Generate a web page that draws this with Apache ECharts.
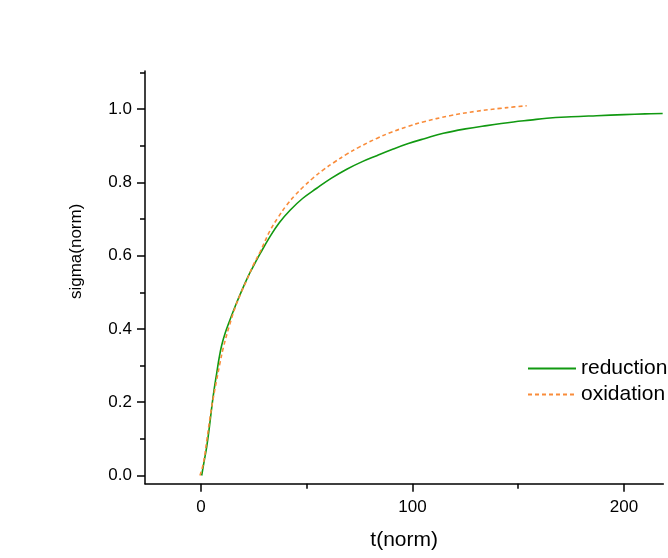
<!DOCTYPE html>
<html>
<head>
<meta charset="utf-8">
<script src="https://cdn.jsdelivr.net/npm/echarts@6/dist/echarts.min.js"></script>
<style>html,body{margin:0;padding:0;background:#fff}#c{width:668px;height:558px}</style>
</head>
<body>
<div id="c"></div>
<script>
// reduction curve (t, sigma)
var redT = [0.3,1.5,2.7,4.0,5.1,6.2,7.4,8.6,9.8,11.5,13.7,16.3,19.2,22.0,24.0,28,32.6,37,42.1,48,54.7,61.5,68.9,76,83.1,90,98,106,114.6,125,135.1,147.7,155.6,163.5,175,187.1,200,210,218.3];
var redS = [0,0.04,0.079,0.135,0.188,0.235,0.279,0.322,0.356,0.39,0.425,0.464,0.504,0.540,0.563,0.606,0.652,0.69,0.724,0.756,0.784,0.811,0.836,0.856,0.873,0.889,0.906,0.920,0.934,0.946,0.955,0.965,0.970,0.975,0.979,0.982,0.985,0.987,0.988];
// oxidation curve (t, sigma)
var oxT = [-0.5,1.1,2.7,4.3,5.8,7.4,9.0,10.5,13.2,16.1,18.8,21.6,24.7,27.9,32.6,36.5,40.5,44.5,48.4,53,57.8,63,68.9,75,83.1,90,98,105,117.7,130,141.4,148,154];
var oxS = [0,0.033,0.095,0.160,0.212,0.261,0.308,0.348,0.405,0.458,0.497,0.533,0.574,0.61,0.668,0.705,0.738,0.765,0.788,0.812,0.834,0.855,0.877,0.897,0.920,0.937,0.953,0.965,0.982,0.994,1.002,1.006,1.009];
// ticks
var xMajor = [0,100,200];
var xMinor = [50,150];
var yMajor = [0,0.2,0.4,0.6,0.8,1.0];
var yMinor = [0.1,0.3,0.5,0.7,0.9,1.1];
var seriesNames = ['reduction','oxidation'];

function pairs(a,b){return a.map(function(v,i){return [v,b[i]];});}
var FONT = "'Liberation Sans', Arial, sans-serif";
var xr = {min:-26.5, max:218.6};
var yr = {min:-0.0224, max:1.104};
var axisLine = {show:true, onZero:false, lineStyle:{color:'#000', width:1.5}};
var hiddenLine = {show:false, onZero:false};

var chart = echarts.init(document.getElementById('c'), null, {renderer:'canvas'});
chart.setOption({
  backgroundColor:'#fff',
  animation:false,
  grid:{left:145, right:4.7, top:71, bottom:74.3, outerBoundsMode:'none'},
  legend:{
    orient:'vertical', left:527, top:358, padding:0, itemWidth:48, itemHeight:14, itemGap:5,
    itemStyle:{opacity:0},
    textStyle:{fontFamily:FONT, fontSize:21, color:'#000'},
    data:seriesNames
  },
  xAxis:[
    {type:'value', min:xr.min, max:xr.max, position:'bottom',
     name:'t(norm)', nameLocation:'middle', nameGap:46,
     nameTextStyle:{fontFamily:FONT, fontSize:21, color:'#000'},
     axisLine:axisLine,
     axisTick:{show:true, inside:false, length:8, customValues:xMajor, lineStyle:{color:'#000', width:1.5}},
     axisLabel:{show:true, customValues:xMajor, margin:15, fontFamily:FONT, fontSize:17, color:'#000'},
     splitLine:{show:false}},
    {type:'value', min:xr.min, max:xr.max, position:'bottom',
     axisLine:hiddenLine,
     axisTick:{show:true, length:5, customValues:xMinor, lineStyle:{color:'#000', width:1.5}},
     axisLabel:{show:false}, splitLine:{show:false}}
  ],
  yAxis:[
    {type:'value', min:yr.min, max:yr.max, position:'left',
     name:'sigma(norm)', nameLocation:'middle', nameGap:60,
     nameTextStyle:{fontFamily:FONT, fontSize:17, color:'#000', padding:[0,0,0,52]},
     axisLine:axisLine,
     axisTick:{show:true, length:8, customValues:yMajor, lineStyle:{color:'#000', width:1.5}},
     axisLabel:{show:true, customValues:yMajor, margin:13, fontFamily:FONT, fontSize:17, color:'#000',
       formatter:function(v){return v.toFixed(1);}},
     splitLine:{show:false}},
    {type:'value', min:yr.min, max:yr.max, position:'left',
     axisLine:hiddenLine,
     axisTick:{show:true, length:5, customValues:yMinor, lineStyle:{color:'#000', width:1.5}},
     axisLabel:{show:false}, splitLine:{show:false}}
  ],
  series:[
    {name:seriesNames[0], type:'line', data:pairs(redT,redS), symbol:'none', showSymbol:false,
     smooth:0.4, color:'#119911',
     lineStyle:{color:'#119911', width:1.6, type:'solid'}, z:3},
    {name:seriesNames[1], type:'line', data:pairs(oxT,oxS), symbol:'none', showSymbol:false,
     smooth:0.4, color:'#f98c3a',
     lineStyle:{color:'#f98c3a', width:1.6, type:[4,3]}, z:4}
  ]
});
</script>
</body>
</html>
